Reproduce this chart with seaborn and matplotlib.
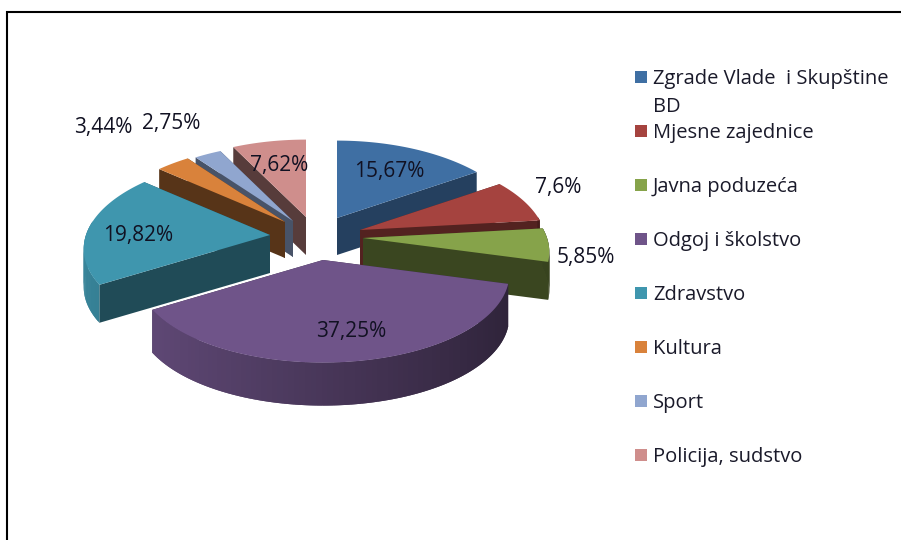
import numpy as np
import matplotlib
matplotlib.use('Agg')
import matplotlib.pyplot as plt
import seaborn as sns

sns.set_theme(style='white')
plt.rcParams['font.family'] = ['Open Sans', 'DejaVu Sans']

# data
categories = ['Zgrade Vlade  i Skupštine\nBD', 'Mjesne zajednice', 'Javna poduzeća', 'Odgoj i školstvo',
              'Zdravstvo', 'Kultura', 'Sport', 'Policija, sudstvo']
values = [15.67, 7.6, 5.85, 37.25, 19.82, 3.44, 2.75, 7.62]
colors = ['#3f6fa3', '#a5433f', '#86a34a', '#6f5489', '#3f96ae', '#d9823b', '#90a6cf', '#cf8e8c']

# slice placement in the picture (exploded apex of each slice, and wall height)
apex_x = [337, 360, 363, 323, 270, 285, 293, 306]
apex_y = [218, 230, 238, 260, 235, 222, 221, 217]
depth = [37, 37, 38, 43, 38, 36, 36, 38]
wall_shade = [0.58, 0.5, 0.43, 0.5, 0.5, 0.4, 0.5, 0.42]
label_x = [389, 558, 586, 351, 138, 103, 171, 279]
label_y = [171, 187, 258, 332, 235, 128, 124, 166]
legend_y = [77, 131, 185, 239, 293, 347, 401, 455]
draw_order = [7, 6, 5, 4, 0, 1, 2, 3]

palette = sns.color_palette(colors)
bounds = np.cumsum([0] + values) / 100 * 2 * np.pi


def rim(theta, cx, cy):
    # slight perspective: the front of the pie is larger than the back
    rx = 184 * (1 - 0.16 * np.cos(theta))
    ry = 90 * (1 - 0.14 * np.cos(theta))
    return cx + rx * np.sin(theta), cy - ry * np.cos(theta)


def shade(color, f):
    return tuple(min(1, c * f) for c in color)


fig, ax = plt.subplots(figsize=(9.01, 5.40), dpi=100)
fig.subplots_adjust(0, 0, 1, 1)
ax.set_xlim(0, 901)
ax.set_ylim(540, 0)
ax.axis('off')

# only the top and left of the frame are in the picture
ax.plot([7, 7, 901], [540, 12, 12], color='black', lw=1.5, solid_joinstyle='miter')

for n, i in enumerate(draw_order):
    cx, cy, d, col = apex_x[i], apex_y[i], depth[i], palette[i]
    t0, t1 = bounds[i], bounds[i + 1]
    z = 2 + n * 0.1
    wall = shade(col, wall_shade[i])

    # radial walls, the one further back first
    edges = sorted([t0, t1], key=lambda t: rim(t, cx, cy)[1])
    for t in edges:
        ox, oy = rim(t, cx, cy)
        ax.fill([cx, ox, ox, cx], [cy, oy, oy + d, cy + d], color=wall, lw=0, zorder=z)

    # outer wall with a left to right gradient, strips overlap so no seams show
    th = np.linspace(t0, t1, 90)
    for k in range(len(th) - 1):
        a, b = th[k], th[min(k + 2, len(th) - 1)]
        if np.cos((a + b) / 2) > 0.15:
            continue
        xa, ya = rim(a, cx, cy)
        xb, yb = rim(b, cx, cy)
        f = 0.648 - 0.236 * np.sin((a + b) / 2)
        ax.fill([xa, xb, xb, xa], [ya, yb, yb + d, ya + d], color=shade(col, f), lw=0, zorder=z)

    # top face
    xs, ys = rim(th, cx, cy)
    ax.fill(np.r_[cx, xs], np.r_[cy, ys], color=col, lw=0, zorder=z)

for v, x, y in zip(values, label_x, label_y):
    txt = f'{v:g}%'.replace('.', ',')
    ax.text(x, y, txt, ha='center', va='center', fontsize=15, color='#111122', zorder=5)

for name, col, y in zip(categories, palette, legend_y):
    ax.fill([635, 647, 647, 635], [y - 6, y - 6, y + 6, y + 6], color=col, lw=0)
    lines = name.split('\n')
    for k, line in enumerate(lines):
        ax.text(653, y + 2 + k * 28, line, ha='left', va='center', fontsize=14.5, color='#1a1a2a', zorder=5)

fig.savefig('out.png', dpi=100, facecolor='white')
